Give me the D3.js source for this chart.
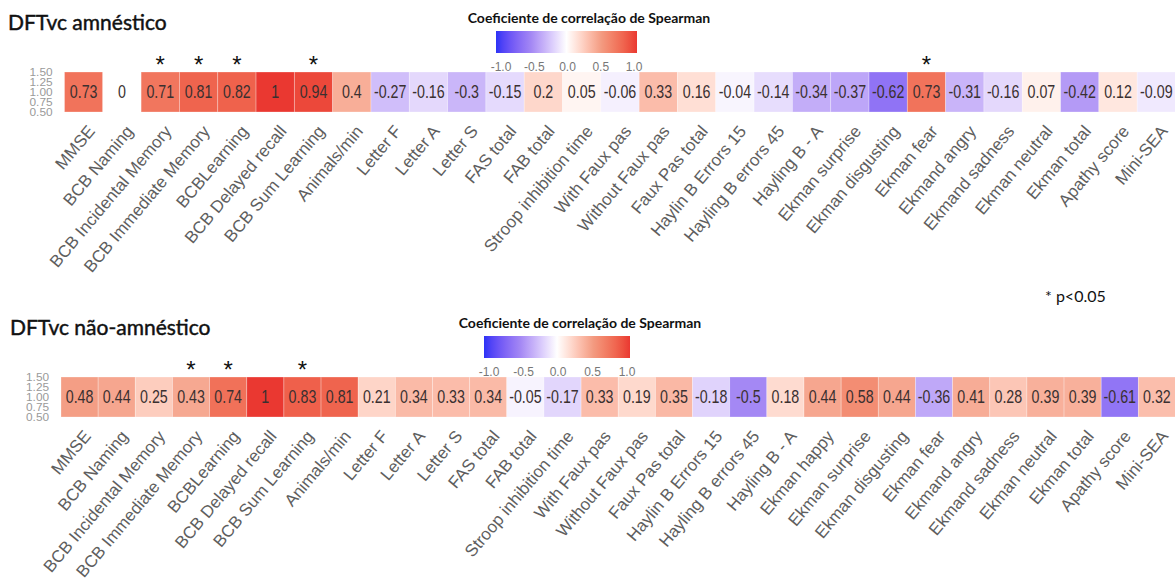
<!DOCTYPE html>
<html><head><meta charset="utf-8">
<script src="https://cdn.jsdelivr.net/npm/d3@7"></script>
<style>
html,body{margin:0;padding:0;background:#fff;}
svg{display:block;}
</style></head>
<body><svg id="chart" width="1175" height="588"></svg>
<script>
// ---------- DATA ----------
const topTitle = "DFTvc amnéstico";
const topCategories = ["MMSE","BCB Naming","BCB Incidental Memory","BCB Immediate Memory","BCBLearning","BCB Delayed recall","BCB Sum Learning","Animals/min","Letter F","Letter A","Letter S","FAS total","FAB total","Stroop inhibition time","With Faux pas","Without Faux pas","Faux Pas total","Haylin B Errors 15","Hayling B errors 45","Hayling B - A","Ekman surprise","Ekman disgusting","Ekman fear","Ekmand angry","Ekmand sadness","Ekman neutral","Ekman total","Apathy score","Mini-SEA"];
const topValues = [0.73,0,0.71,0.81,0.82,1,0.94,0.4,-0.27,-0.16,-0.3,-0.15,0.2,0.05,-0.06,0.33,0.16,-0.04,-0.14,-0.34,-0.37,-0.62,0.73,-0.31,-0.16,0.07,-0.42,0.12,-0.09];
const topSignificant = ["BCB Incidental Memory","BCB Immediate Memory","BCBLearning","BCB Sum Learning","Ekman fear"];

const bottomTitle = "DFTvc não-amnéstico";
const bottomCategories = ["MMSE","BCB Naming","BCB Incidental Memory","BCB Immediate Memory","BCBLearning","BCB Delayed recall","BCB Sum Learning","Animals/min","Letter F","Letter A","Letter S","FAS total","FAB total","Stroop inhibition time","With Faux pas","Without Faux pas","Faux Pas total","Haylin B Errors 15","Hayling B errors 45","Hayling B - A","Ekman happy","Ekman surprise","Ekman disgusting","Ekman fear","Ekmand angry","Ekmand sadness","Ekman neutral","Ekman total","Apathy score","Mini-SEA"];
const bottomValues = [0.48,0.44,0.25,0.43,0.74,1,0.83,0.81,0.21,0.34,0.33,0.34,-0.05,-0.17,0.33,0.19,0.35,-0.18,-0.5,0.18,0.44,0.58,0.44,-0.36,0.41,0.28,0.39,0.39,-0.61,0.32];
const bottomSignificant = ["BCB Immediate Memory","BCBLearning","BCB Sum Learning"];

const yTicks = [0.5,0.75,1.0,1.25,1.5];
const legendTicks = [-1.0,-0.5,0.0,0.5,1.0];
const legendTitle = "Coeficiente de correlação de Spearman";
const noteText = "* p<0.05";

// ---------- DRAW ----------
const svg = d3.select("#chart");
const color = d3.scaleLinear().domain([-1,-0.5,0,0.5,1])
  .range(["#2c33f6","#a488f4","#ffffff","#f39a80","#ea3831"]).interpolate(d3.interpolateLab);
const fmt = v => String(v);

const defs = svg.append("defs");
const grad = defs.append("linearGradient").attr("id","lg").attr("x1","0%").attr("x2","100%");
d3.range(0,1.0001,0.05).forEach(t => {
  grad.append("stop").attr("offset",(t*100)+"%").attr("stop-color",color(-1+2*t));
});

function panel(cfg){
  const g = svg.append("g").attr("transform",`translate(0,${cfg.dy})`);
  // title
  g.append("text").attr("x",cfg.titleX).attr("y",30).text(cfg.title)
    .attr("font-family","Lato, 'Open Sans', sans-serif").attr("font-size",21).attr("font-weight",400)
    .attr("fill","#111").attr("stroke","#111").attr("stroke-width",0.45);
  // legend
  const lg = g.append("g");
  lg.append("text").attr("x",cfg.legTitleX).attr("y",23).attr("text-anchor","middle").text(legendTitle)
    .attr("font-family","Lato, sans-serif").attr("font-weight",700).attr("font-size",14).attr("fill","#111");
  lg.append("rect").attr("x",cfg.legX).attr("y",31).attr("width",cfg.legW).attr("height",22).attr("fill","url(#lg)");
  const lx = d3.scaleLinear().domain([-1,1]).range([cfg.legX+5,cfg.legX+cfg.legW-3]);
  lg.selectAll("text.lt").data(legendTicks).join("text").attr("class","lt")
    .attr("x",d=>lx(d)).attr("y",71).attr("text-anchor","middle")
    .text(d=>d3.format(".1f")(d).replace("−","-"))
    .attr("font-family","'Liberation Sans', Arial, sans-serif").attr("font-size",12).attr("fill","#777");

  // heatmap
  const x = d3.scaleBand().domain(cfg.categories).range([cfg.x0,cfg.x1]).padding(0);
  const y = d3.scaleLinear().domain([0.5,1.5]).range([112,72]);
  const data = cfg.categories.map((c,i)=>({c, v:cfg.values[i]}));
  g.selectAll("rect.cell").data(data).join("rect").attr("class","cell")
    .attr("x",d=>x(d.c)).attr("y",y(1.5)).attr("width",x.bandwidth()).attr("height",y(0.5)-y(1.5))
    .attr("fill",d=>color(d.v)).attr("stroke","#fff").attr("stroke-opacity",0.35).attr("stroke-width",0.8);
  const cy = y(1.0);
  g.selectAll("text.val").data(data).join("text").attr("class","val")
    .attr("transform",d=>`translate(${x(d.c)+x.bandwidth()/2},${cy}) scale(0.95,1.2)`)
    .attr("text-anchor","middle").attr("dy","0.36em")
    .text(d=>fmt(d.v))
    .attr("font-family","'Liberation Sans', Arial, sans-serif").attr("font-size",15).attr("fill","#3a3030");
  // stars
  g.selectAll("text.star").data(cfg.sig).join("text").attr("class","star")
    .attr("x",d=>x(d)+x.bandwidth()/2).attr("y",73).attr("text-anchor","middle").text("*")
    .attr("font-family","'Liberation Sans', Arial, sans-serif").attr("font-size",24).attr("font-weight",400).attr("fill","#111");
  // y axis
  const ay = g.append("g").attr("transform",`translate(${cfg.x0-10},0)`)
    .call(d3.axisLeft(y).tickValues(yTicks).tickSize(0).tickPadding(2).tickFormat(d3.format(".2f")));
  ay.select(".domain").remove();
  ay.selectAll("text").attr("font-family","'Liberation Sans', Arial, sans-serif").attr("font-size",12.5)
    .attr("fill","#9a9a9a").attr("transform","scale(0.95,0.8)");
  // x labels
  g.selectAll("text.xl").data(cfg.categories).join("text").attr("class","xl")
    .attr("transform",d=>`translate(${x(d)+x.bandwidth()/2+3},${124}) rotate(-50)`)
    .attr("text-anchor","end").attr("dy","0.7em")
    .text(d=>d)
    .attr("font-family","'Liberation Sans', Arial, sans-serif").attr("font-size",17).attr("fill","#5e5e5e");
}

panel({dy:0, title:topTitle, titleX:8, legX:496, legW:141, legTitleX:589, categories:topCategories, values:topValues, sig:topSignificant, x0:64.5, x1:1175.5});
panel({dy:305, title:bottomTitle, titleX:10, legX:484, legW:146, legTitleX:580, categories:bottomCategories, values:bottomValues, sig:bottomSignificant, x0:61, x1:1175.5});

svg.append("text").attr("x",1045).attr("y",302).text(noteText)
  .attr("font-family","Lato, sans-serif").attr("font-size",16).attr("fill","#111");
</script>
</body></html>
